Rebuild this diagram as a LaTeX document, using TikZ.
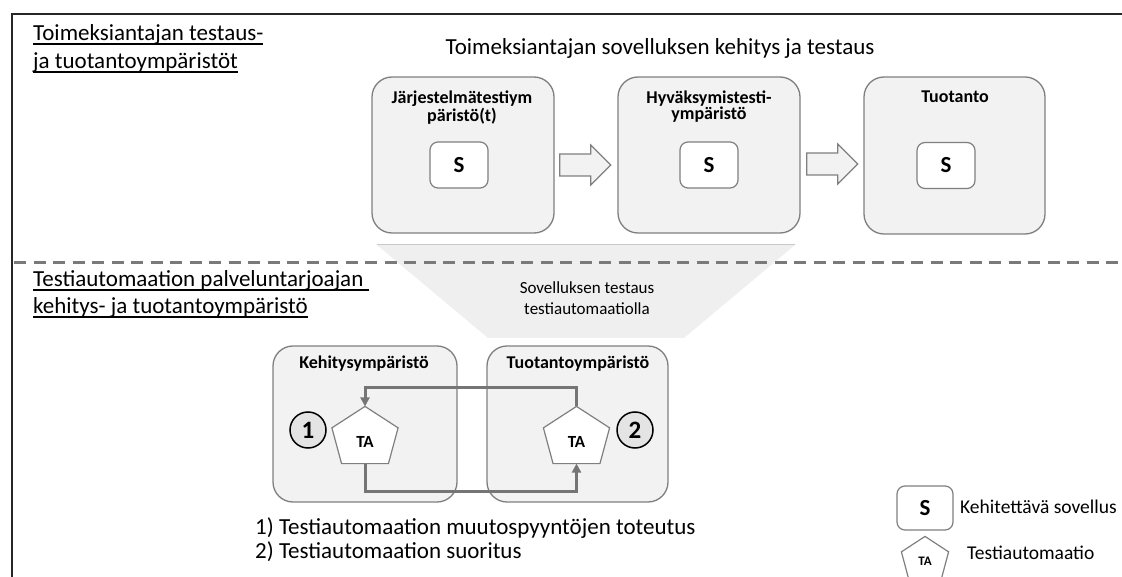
\documentclass[tikz,border=0pt]{standalone}
\usepackage{fontspec}
\setmainfont{Carlito}
\usetikzlibrary{arrows.meta,calc}

\definecolor{boxfill}{HTML}{F2F2F2}
\definecolor{boxline}{HTML}{7F7F7F}
\definecolor{flowline}{HTML}{757575}
\definecolor{dashcol}{HTML}{7A7A7A}
\definecolor{funnelfill}{HTML}{EFEFEF}
\definecolor{funneledge}{HTML}{C8C8C8}
\definecolor{stepfill}{HTML}{E4E4E4}

% underline placed close to the baseline, crossing descenders
\newcommand\undertext[1]{\setbox0\hbox{#1}\rlap{\rule[-3.6pt]{\wd0}{1.4pt}}\box0}

\makeatletter
% pentagon drawn inside the node's rectangular box
\pgfdeclareshape{pentabox}{
  \inheritsavedanchors[from=rectangle]
  \inheritanchorborder[from=rectangle]
  \inheritanchor[from=rectangle]{center}
  \inheritanchor[from=rectangle]{north}
  \inheritanchor[from=rectangle]{south}
  \inheritanchor[from=rectangle]{east}
  \inheritanchor[from=rectangle]{west}
  \inheritanchor[from=rectangle]{base}
  \backgroundpath{%
    \southwest \pgf@xa=\pgf@x \pgf@ya=\pgf@y
    \northeast \pgf@xb=\pgf@x \pgf@yb=\pgf@y
    \pgf@xc=.5\pgf@xa \advance\pgf@xc by .5\pgf@xb
    \edef\pent@cx{\the\pgf@xc}%
    \pgf@yc=.625\pgf@yb \advance\pgf@yc by .375\pgf@ya
    \edef\pent@sy{\the\pgf@yc}%
    \pgf@xc=.854\pgf@xa \advance\pgf@xc by .146\pgf@xb
    \edef\pent@bl{\the\pgf@xc}%
    \pgf@xc=.146\pgf@xa \advance\pgf@xc by .854\pgf@xb
    \edef\pent@br{\the\pgf@xc}%
    \edef\pent@l{\the\pgf@xa}\edef\pent@r{\the\pgf@xb}%
    \edef\pent@t{\the\pgf@yb}\edef\pent@b{\the\pgf@ya}%
    \pgfpathmoveto{\pgfqpoint{\pent@cx}{\pent@t}}%
    \pgfpathlineto{\pgfqpoint{\pent@r}{\pent@sy}}%
    \pgfpathlineto{\pgfqpoint{\pent@br}{\pent@b}}%
    \pgfpathlineto{\pgfqpoint{\pent@bl}{\pent@b}}%
    \pgfpathlineto{\pgfqpoint{\pent@l}{\pent@sy}}%
    \pgfpathclose
  }
}
\makeatother

\tikzset{
  frameline/.style={draw=black!85, line width=1.8pt},
  dashline/.style={draw=dashcol, line width=3pt, dash pattern=on 12pt off 7.5pt},
  bigtext/.style={font=\fontsize{23}{27}\selectfont, anchor=base west, inner sep=0pt},
  headtext/.style={font=\fontsize{23}{27}\selectfont, anchor=base, inner sep=0pt},
  envbox/.style={draw=boxline, fill=boxfill, line width=1.3pt, rounded corners=20pt, inner sep=0pt},
  envtitle/.style={font=\fontsize{18}{16}\selectfont\bfseries, align=center, anchor=north, inner sep=0pt},
  sbox/.style={draw=boxline, fill=white, line width=1.2pt, rounded corners=8pt,
    minimum width=58pt, minimum height=46pt, inner sep=0pt, font=\fontsize{23}{26}\selectfont\bfseries},
  blockarrow/.style={draw=boxline, fill=boxfill, line width=1.2pt, line join=miter},
  tanode/.style={pentabox, draw=boxline, fill=white, line width=1.2pt, line join=miter,
    minimum width=65pt, minimum height=56pt, inner sep=0pt, text height=25pt, text depth=0pt,
    font=\fontsize{17}{18}\selectfont\bfseries},
  stepnum/.style={circle, draw=black, fill=stepfill, line width=1.5pt, minimum size=36pt,
    inner sep=0pt, font=\fontsize{25}{26}\selectfont\bfseries},
  flow/.style={draw=flowline, line width=3pt, -{Triangle[length=9pt,width=9pt]}},
  funneltext/.style={font=\fontsize{17}{21}\selectfont, align=center, inner sep=0pt},
  legendtext/.style={font=\fontsize{19.5}{23}\selectfont, anchor=west, inner sep=0pt},
}

\begin{document}
\begin{tikzpicture}[x=1pt,y=-1pt]
\useasboundingbox (0,0) rectangle (1122,577);

% funnel between the two zones
\fill[funnelfill] (377,245) -- (795,245) -- (684,338) -- (488,338) -- cycle;
\draw[funneledge, line width=1pt] (377,245) -- (795,245);
\node[funneltext] (testing) at (587,298) {Sovelluksen testaus\\testiautomaatiolla};

% zone divider and outer frame
\draw[dashline] (14,263) -- (1122,263);
\draw[frameline] (12,577) -- (12,14) -- (1122,14);

% zone titles
\node[bigtext] (client1) at (33,41) {\undertext{Toimeksiantajan testaus-}};
\node[bigtext] (client2) at (33,69) {\undertext{ja tuotantoympäristöt}};
\node[bigtext] (provider1) at (33,287) {\undertext{Testiautomaation palveluntarjoajan\ }};
\node[bigtext] (provider2) at (33,314) {\undertext{kehitys- ja tuotantoympäristö}};
\node[headtext] (heading) at (660,55) {Toimeksiantajan sovelluksen kehitys ja testaus};

% client environments
\node[envbox, minimum width=182pt, minimum height=156pt] (systest) at (463,155) {};
\node[envbox, minimum width=182pt, minimum height=156pt] (acctest) at (709,155) {};
\node[envbox, minimum width=181pt, minimum height=157pt] (prod) at (954.5,155.5) {};
\node[envtitle] (systesttitle) at (462,91) {Järjestelmätestiym\\päristö(t)};
\node[envtitle] (acctesttitle) at (709,91) {Hyväksymistesti-\\ympäristö};
\node[envtitle] (prodtitle) at (955,91) {Tuotanto};
\node[sbox] (s1) at (459,165) {S};
\node[sbox] (s2) at (709,165) {S};
\node[sbox] (s3) at (946,165.5) {S};

% block arrows between the environments
\coordinate (a1) at ($(systest.east)+(5,10)$);
\coordinate (a2) at ($(acctest.east)+(6,9)$);
\foreach \start in {a1,a2}
  \draw[blockarrow] (\start) ++(0,-11) -- ++(31,0) -- ++(0,-9) -- ++(20,20)
    -- ++(-20,20) -- ++(0,-9) -- ++(-31,0) -- cycle;

% provider environments
\node[envbox, minimum width=184pt, minimum height=156pt] (dev) at (365,424) {};
\node[envbox, minimum width=181pt, minimum height=156pt] (run) at (577.5,424) {};
\node[envtitle] (devtitle) at (364,356) {Kehitysympäristö};
\node[envtitle] (runtitle) at (578,356) {Tuotantoympäristö};
\node[tanode] (ta1) at (365,435) {TA};
\node[tanode] (ta2) at (576.5,435) {TA};
\node[stepnum] (n1) at (308,430) {1};
\node[stepnum] (n2) at (635,430) {2};
\draw[flow] (ta2.north) -- ++(0,-19) -| (ta1.north);
\draw[flow] (ta1.south) -- ++(0,28) -| (ta2.south);

% numbered notes
\node[bigtext] (note1) at (255,534) {1) Testiautomaation muutospyyntöjen toteutus};
\node[bigtext] (note2) at (255,558) {2) Testiautomaation suoritus};

% legend
\node[sbox, minimum width=56pt, minimum height=44pt] (legs) at (925,508) {S};
\node[legendtext] (legstext) at (960,507) {Kehitettävä sovellus};
\node[tanode, minimum width=46pt, minimum height=40pt, text height=17pt,
      font=\fontsize{13}{14}\selectfont\bfseries] (legta) at (925,557) {TA};
\node[legendtext] (legtatext) at (967,553) {Testiautomaatio};
\end{tikzpicture}
\end{document}
